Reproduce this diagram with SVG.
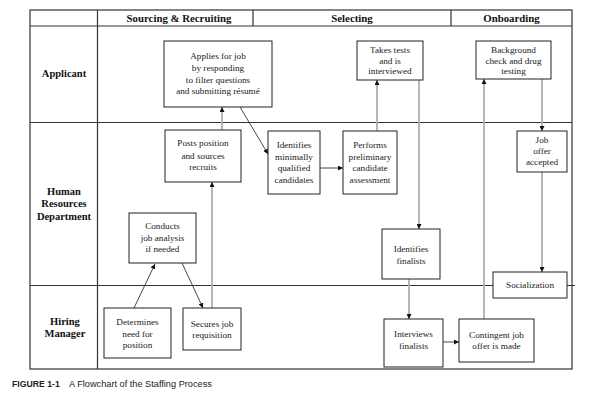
<svg xmlns="http://www.w3.org/2000/svg" width="595" height="415" viewBox="0 0 595 415">
<style>
.frame{fill:none;stroke:#333;stroke-width:1.2}
.box rect{fill:#fff;stroke:#222;stroke-width:1}
.box text{font-family:"Liberation Serif","Times New Roman",serif;font-size:9.2px;fill:#1a1a1a;text-anchor:middle}
.lane{font-family:"Liberation Serif","Times New Roman",serif;font-size:10.5px;font-weight:bold;fill:#111;text-anchor:middle}
.head{font-family:"Liberation Serif","Times New Roman",serif;font-size:10.8px;font-weight:bold;fill:#111;text-anchor:middle}
.dark{fill:none;stroke:#333;stroke-width:0.9;marker-end:url(#ah)}
.gray{fill:none;stroke:#b0b0b0;stroke-width:1.8;marker-end:url(#ah)}
.cap{font-family:"Liberation Sans",Arial,sans-serif;font-size:9.2px;fill:#222}
</style>
<defs>
<marker id="ah" viewBox="0 0 10 10" refX="10" refY="5" markerWidth="5" markerHeight="5" markerUnits="userSpaceOnUse" orient="auto">
<path d="M0,0 L10,5 L0,10 z" fill="#111"/>
</marker>
</defs>
<rect width="595" height="415" fill="#fff"/>
<g id="frame">
<rect class="frame" x="30" y="10" width="542" height="359"/>
<line class="frame" x1="30" y1="26" x2="572" y2="26"/>
<line class="frame" x1="30" y1="122.5" x2="572" y2="122.5"/>
<line class="frame" x1="30" y1="285.5" x2="575" y2="285.5"/>
<line class="frame" x1="97.5" y1="10" x2="97.5" y2="369"/>
<line class="frame" x1="253" y1="10" x2="253" y2="26"/>
<line class="frame" x1="451" y1="10" x2="451" y2="26"/>
<text class="head" x="179" y="21.5">Sourcing &amp; Recruiting</text>
<text class="head" x="352" y="21.5">Selecting</text>
<text class="head" x="511.5" y="21.5">Onboarding</text>
<text class="lane" x="64" y="77">Applicant</text>
<text class="lane" x="64" y="194.5">Human</text>
<text class="lane" x="64" y="207">Resources</text>
<text class="lane" x="64" y="219.5">Department</text>
<text class="lane" x="65" y="324.5">Hiring</text>
<text class="lane" x="65" y="337">Manager</text>
</g>
<g id="connectors">
<line class="dark" x1="134" y1="308" x2="155" y2="264"/>
<line class="dark" x1="182" y1="263" x2="203" y2="308"/>
<line class="gray" x1="212" y1="308" x2="212" y2="182"/>
<line class="gray" x1="222" y1="130" x2="222" y2="107"/>
<line class="dark" x1="240" y1="107" x2="268" y2="154"/>
<line class="dark" x1="320" y1="168" x2="343" y2="168"/>
<line class="gray" x1="377" y1="131" x2="377" y2="80"/>
<line class="gray" x1="419" y1="80" x2="419" y2="229"/>
<line class="gray" x1="409" y1="279" x2="409" y2="319"/>
<line class="dark" x1="443" y1="342" x2="459" y2="342"/>
<line class="gray" x1="484" y1="319" x2="484" y2="79"/>
<line class="gray" x1="542" y1="79" x2="542" y2="131"/>
<line class="gray" x1="542" y1="172" x2="542" y2="272"/>
</g>
<g id="applies" class="box">
<rect x="164" y="41" width="108" height="66"/>
<text x="218" y="59">Applies for job</text>
<text x="218" y="71">by responding</text>
<text x="218" y="83">to filter questions</text>
<text x="218" y="94">and submitting résumé</text>
</g>
<g id="takes" class="box">
<rect x="357" y="41" width="66" height="39"/>
<text x="390" y="53">Takes tests</text>
<text x="390" y="64">and is</text>
<text x="390" y="74">interviewed</text>
</g>
<g id="background" class="box">
<rect x="476" y="41" width="75" height="38"/>
<text x="513.5" y="53">Background</text>
<text x="513.5" y="64">check and drug</text>
<text x="513.5" y="74">testing</text>
</g>
<g id="posts" class="box">
<rect x="165" y="130" width="76" height="52"/>
<text x="203" y="146">Posts position</text>
<text x="203" y="158.5">and sources</text>
<text x="203" y="169.5">recruits</text>
</g>
<g id="identifies-qualified" class="box">
<rect x="268" y="131" width="52" height="63"/>
<text x="294" y="148">Identifies</text>
<text x="294" y="160">minimally</text>
<text x="294" y="171">qualified</text>
<text x="294" y="183">candidates</text>
</g>
<g id="performs" class="box">
<rect x="343" y="131" width="54" height="63"/>
<text x="370" y="148">Performs</text>
<text x="370" y="160">preliminary</text>
<text x="370" y="171">candidate</text>
<text x="370" y="183">assessment</text>
</g>
<g id="job-offer" class="box">
<rect x="517" y="131" width="50" height="41"/>
<text x="542" y="143">Job</text>
<text x="542" y="154">offer</text>
<text x="542" y="165">accepted</text>
</g>
<g id="conducts" class="box">
<rect x="129" y="213" width="67" height="50"/>
<text x="162.5" y="229">Conducts</text>
<text x="162.5" y="240.5">job analysis</text>
<text x="162.5" y="252">if needed</text>
</g>
<g id="identifies-finalists" class="box">
<rect x="382" y="229" width="58" height="50"/>
<text x="411" y="252">Identifies</text>
<text x="411" y="263.5">finalists</text>
</g>
<g id="socialization" class="box">
<rect x="493" y="272" width="74" height="26"/>
<text x="530" y="288">Socialization</text>
</g>
<g id="determines" class="box">
<rect x="104" y="308" width="67" height="50"/>
<text x="137.5" y="325">Determines</text>
<text x="137.5" y="336.5">need for</text>
<text x="137.5" y="348">position</text>
</g>
<g id="secures" class="box">
<rect x="183" y="308" width="58" height="42"/>
<text x="212" y="326.5">Secures job</text>
<text x="212" y="338">requisition</text>
</g>
<g id="interviews" class="box">
<rect x="384" y="319" width="59" height="48"/>
<text x="413.5" y="337">Interviews</text>
<text x="413.5" y="349">finalists</text>
</g>
<g id="contingent" class="box">
<rect x="459" y="319" width="75" height="43"/>
<text x="496.5" y="338">Contingent job</text>
<text x="496.5" y="349">offer is made</text>
</g>
<g id="caption">
<text class="cap" x="12" y="387"><tspan font-weight="bold" font-size="8.7px">FIGURE 1-1</tspan><tspan x="69">A Flowchart of the Staffing Process</tspan></text>
</g>
</svg>
